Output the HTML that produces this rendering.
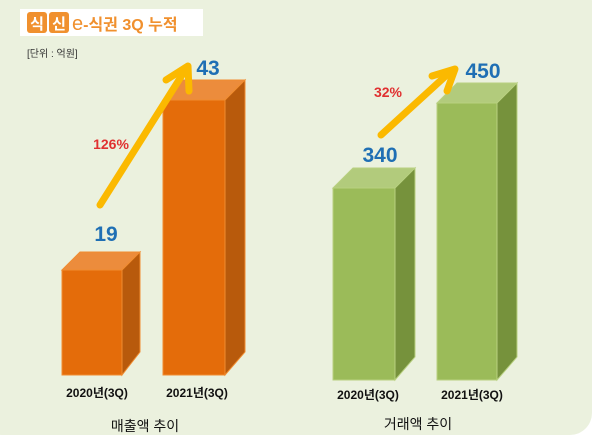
<!DOCTYPE html><html><head><meta charset="utf-8"><style>
body{margin:0;background:#fff;width:600px;height:436px;overflow:hidden}
svg text{font-family:"Liberation Sans","Noto Sans CJK KR",sans-serif}
</style></head><body>
<svg width="600" height="436" xmlns="http://www.w3.org/2000/svg">
<rect x="-20" y="-20" width="612" height="455" rx="22" fill="#ebf1de"/>
<rect x="20" y="9" width="183" height="27" fill="#fff"/>
<rect x="27" y="12" width="20" height="21" rx="3" fill="#f0902e"/>
<rect x="49" y="12" width="20" height="21" rx="3" fill="#f0902e"/>
<text x="37" y="29" font-size="15" font-weight="bold" fill="#fff" text-anchor="middle">식</text>
<text x="59" y="29" font-size="15" font-weight="bold" fill="#fff" text-anchor="middle">신</text>
<text x="72" y="30" font-size="20" fill="#f0902e">e<tspan font-size="16" font-weight="bold">-식권 3Q 누적</tspan></text>
<text x="27" y="57" font-size="10" fill="#333">[단위 : 억원]</text>
<g stroke="#f08c30" stroke-width="1">
<polygon points="62,270 80,252 140,252 122,270" fill="#ec8c3c"/>
<polygon points="122,270 140,252 140,352 122,375" fill="#b85a0c"/>
<rect x="62" y="270" width="60" height="105" fill="#e46c0a"/>
<polygon points="163,100 183,80 245,80 225,100" fill="#ec8c3c"/>
<polygon points="225,100 245,80 245,352 225,375" fill="#b85a0c"/>
<rect x="163" y="100" width="62" height="275" fill="#e46c0a"/>
</g>
<g stroke="#b8d080" stroke-width="1">
<polygon points="333,188 353,168 415,168 395,188" fill="#b2cb7c"/>
<polygon points="395,188 415,168 415,357 395,380" fill="#76923c"/>
<rect x="333" y="188" width="62" height="192" fill="#9bbb59"/>
<polygon points="437,103 457,83 517,83 497,103" fill="#b2cb7c"/>
<polygon points="497,103 517,83 517,357 497,380" fill="#76923c"/>
<rect x="437" y="103" width="60" height="277" fill="#9bbb59"/>
</g>
<g stroke="#fbb900" stroke-width="7" stroke-linecap="round" fill="none" stroke-linejoin="round">
<line x1="100" y1="205" x2="184" y2="72"/>
<polyline points="166,80 188,66 189,91"/>
<line x1="381" y1="135" x2="450" y2="72"/>
<polyline points="432,76 455,69 447,91"/>
</g>
<g font-weight="bold" fill="#1f6fb4" text-anchor="middle" font-size="21">
<text x="106" y="241">19</text>
<text x="208" y="75">43</text>
<text x="380" y="162">340</text>
<text x="483" y="78">450</text>
</g>
<g font-weight="bold" fill="#e03030" text-anchor="middle" font-size="14">
<text x="111" y="149">126%</text>
<text x="388" y="97">32%</text>
</g>
<g font-weight="bold" fill="#111" text-anchor="middle" font-size="12">
<text x="97" y="397">2020년(3Q)</text>
<text x="197" y="397">2021년(3Q)</text>
<text x="368" y="399">2020년(3Q)</text>
<text x="472" y="399">2021년(3Q)</text>
</g>
<g fill="#111" text-anchor="middle" font-size="14">
<text x="145" y="431">매출액 추이</text>
<text x="418" y="429">거래액 추이</text>
</g>
</svg>
</body></html>
